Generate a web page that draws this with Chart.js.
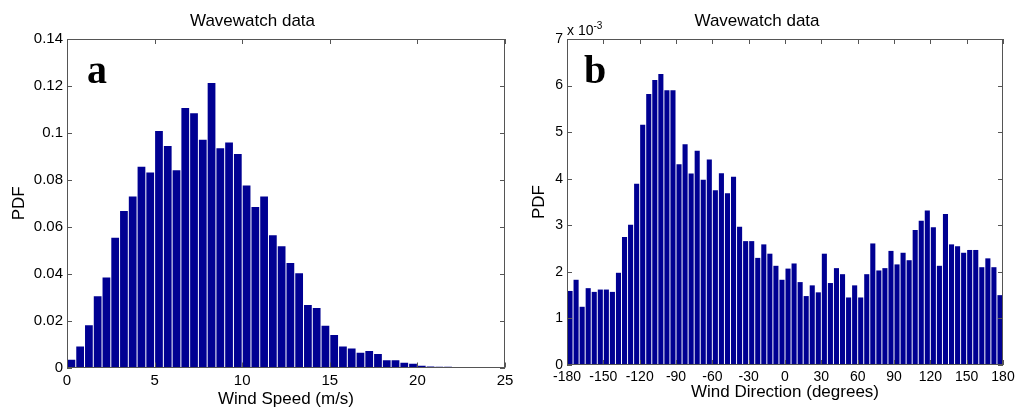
<!DOCTYPE html>
<html lang="en">
<head>
    <meta charset="UTF-8">
    <title>Wavewatch data</title>
    <script src="https://cdn.jsdelivr.net/npm/chart.js"></script>
    <style>
        body { margin: 0; background: #fff; }
        .wrap { position: relative; width: 1022px; height: 408px; overflow: hidden; }
        .panel { position: absolute; top: 0; }
        .tag {
            position: absolute;
            font-family: 'Liberation Serif', 'Times New Roman', serif;
            font-weight: bold;
            font-size: 40px;
            line-height: 40px;
        }
        .scale-note {
            position: absolute;
            font-family: 'Liberation Sans', Arial, sans-serif;
            font-size: 14px;
            line-height: 14px;
        }
        .scale-note span { position: relative; top: -6px; font-size: 10px; }
    </style>
</head>
<body>
    <div class="wrap">
        <canvas id="dirChart" class="panel" width="511" height="408" style="left:511px"></canvas>
        <canvas id="speedChart" class="panel" width="522" height="408" style="left:0"></canvas>
        <div class="tag" style="left:87px; top:50px">a</div>
        <div class="tag" style="left:584px; top:50px">b</div>
        <div class="scale-note" style="left:567px; top:23px">x 10<span>-3</span></div>
    </div>

    <script>
        // Wind speed histogram (bins of 0.5 m/s starting at 0)
        const speedBinStart = 0;
        const speedBinWidth = 0.5;
        const speedPdf = [
            0.0033, 0.0090, 0.0180, 0.0304, 0.0384, 0.0553, 0.0667, 0.0729, 0.0856, 0.0831,
            0.1008, 0.0944, 0.0841, 0.1106, 0.1084, 0.0971, 0.1212, 0.0934, 0.0959, 0.0910,
            0.0776, 0.0684, 0.0729, 0.0564, 0.0517, 0.0445, 0.0402, 0.0266, 0.0254, 0.0178,
            0.0139, 0.0090, 0.0081, 0.0063, 0.0070, 0.0058, 0.0031, 0.0031, 0.0020, 0.0016,
            0.0007, 0.0004, 0.0003, 0.0003
        ];
        const speedTicks = [0, 5, 10, 15, 20, 25];
        const speedPdfTicks = [0, 0.02, 0.04, 0.06, 0.08, 0.1, 0.12, 0.14];

        // Wind direction histogram (bins of 5 degrees from -180), values in units of 1e-3
        const dirBinStart = -180;
        const dirBinWidth = 5;
        const dirPdfE3 = [
            1.59, 1.83, 1.25, 1.65, 1.57, 1.62, 1.62, 1.57, 1.98, 2.75,
            3.01, 3.89, 5.16, 5.82, 6.12, 6.25, 5.90, 5.90, 4.31, 4.74,
            4.11, 4.60, 3.98, 4.41, 3.75, 4.12, 3.69, 4.04, 2.97, 2.66,
            2.66, 2.30, 2.59, 2.39, 2.13, 1.83, 2.07, 2.18, 1.78, 1.48,
            1.71, 1.56, 2.39, 1.76, 2.08, 1.95, 1.45, 1.71, 1.45, 1.95,
            2.61, 2.03, 2.08, 2.45, 2.16, 2.41, 2.25, 2.90, 3.10, 3.32,
            2.96, 2.13, 3.24, 2.59, 2.55, 2.41, 2.47, 2.47, 2.10, 2.29,
            2.10, 1.50
        ];
        const dirTicks = [-180, -150, -120, -90, -60, -30, 0, 30, 60, 90, 120, 150, 180];
        const dirPdfTicks = [0, 1, 2, 3, 4, 5, 6, 7];

        Chart.defaults.font.family = "'Liberation Sans', Arial, sans-serif";
        Chart.defaults.color = '#000';

        // box round the plot with inward ticks on all four sides
        const framePlugin = {
            id: 'frame',
            afterDraw(chart) {
                const { ctx, chartArea: a, scales: { x, y } } = chart;
                const len = 5;
                ctx.save();
                ctx.strokeStyle = '#555';
                ctx.lineWidth = 1;
                ctx.strokeRect(Math.round(a.left) + 0.5, Math.round(a.top) + 0.5,
                    Math.round(a.width) - 1, Math.round(a.height) - 1);
                ctx.beginPath();
                x.ticks.forEach(t => {
                    const px = Math.round(x.getPixelForValue(t.value)) + 0.5;
                    ctx.moveTo(px, a.bottom); ctx.lineTo(px, a.bottom - len);
                    ctx.moveTo(px, a.top); ctx.lineTo(px, a.top + len);
                });
                y.ticks.forEach(t => {
                    const py = Math.round(y.getPixelForValue(t.value)) + 0.5;
                    ctx.moveTo(a.left, py); ctx.lineTo(a.left + len, py);
                    ctx.moveTo(a.right, py); ctx.lineTo(a.right - len, py);
                });
                ctx.stroke();
                ctx.restore();
            }
        };

        function binPoints(start, width, values) {
            return values.map((v, i) => ({ x: start + (i + 0.5) * width, y: v }));
        }

        function makeChart(id, cfg) {
            const ctx = document.getElementById(id).getContext('2d');
            return new Chart(ctx, {
                type: 'bar',
                data: {
                    datasets: [{
                        data: cfg.points,
                        backgroundColor: '#000092',
                        borderWidth: 0,
                        categoryPercentage: cfg.barFill,
                        barPercentage: 1
                    }]
                },
                options: {
                    responsive: false,
                    animation: false,
                    devicePixelRatio: 1,
                    layout: { padding: { left: 0, right: cfg.padRight, top: 0, bottom: 0 } },
                    plugins: {
                        legend: { display: false },
                        tooltip: { enabled: false },
                        title: {
                            display: true,
                            text: 'Wavewatch data',
                            color: '#000',
                            font: { size: 17, weight: 'normal', lineHeight: 1.2 },
                            padding: { top: 11, bottom: 7.6 }
                        }
                    },
                    scales: {
                        x: {
                            type: 'linear',
                            offset: false,
                            min: cfg.xTicks[0],
                            max: cfg.xTicks[cfg.xTicks.length - 1],
                            grid: { display: false, drawTicks: false, offset: false },
                            border: { display: false },
                            afterBuildTicks: s => { s.ticks = cfg.xTicks.map(v => ({ value: v })); },
                            afterFit: s => { s.height = cfg.xAxisHeight; s.paddingLeft = 0; s.paddingRight = 0; },
                            ticks: {
                                autoSkip: false,
                                maxRotation: 0,
                                padding: cfg.xTickPad,
                                font: { size: cfg.tickSize },
                                callback: v => String(v)
                            },
                            title: {
                                display: true,
                                text: cfg.xTitle,
                                font: { size: 17, lineHeight: 1 },
                                padding: { top: 0, bottom: cfg.xTitlePad }
                            }
                        },
                        y: {
                            min: cfg.yTicks[0],
                            max: cfg.yTicks[cfg.yTicks.length - 1],
                            grid: { display: false, drawTicks: false },
                            border: { display: false },
                            afterBuildTicks: s => { s.ticks = cfg.yTicks.map(v => ({ value: v })); },
                            afterFit: s => { s.width = cfg.yAxisWidth; s.paddingTop = 0; s.paddingBottom = 0; },
                            ticks: {
                                padding: 4,
                                font: { size: cfg.tickSize },
                                callback: v => String(Math.round(v * 100) / 100)
                            },
                            title: {
                                display: true,
                                text: 'PDF',
                                font: { size: 17, lineHeight: 1 },
                                padding: { top: cfg.yTitlePad, bottom: 0 }
                            }
                        }
                    }
                },
                plugins: [framePlugin]
            });
        }

        makeChart('speedChart', {
            points: binPoints(speedBinStart, speedBinWidth, speedPdf),
            xTicks: speedTicks,
            yTicks: speedPdfTicks,
            xTitle: 'Wind Speed (m/s)',
            barFill: 0.885,
            padRight: 17,
            yAxisWidth: 67,
            xAxisHeight: 40.5,
            xTickPad: 4.5,
            xTitlePad: 0,
            yTitlePad: 10.5,
            tickSize: 15
        });

        makeChart('dirChart', {
            points: binPoints(dirBinStart, dirBinWidth, dirPdfE3),
            xTicks: dirTicks,
            yTicks: dirPdfTicks,
            xTitle: 'Wind Direction (degrees)',
            barFill: 0.84,
            padRight: 19,
            yAxisWidth: 56,
            xAxisHeight: 43,
            xTickPad: 4,
            xTitlePad: 7.5,
            yTitlePad: 19.5,
            tickSize: 14
        });
    </script>
</body>
</html>
